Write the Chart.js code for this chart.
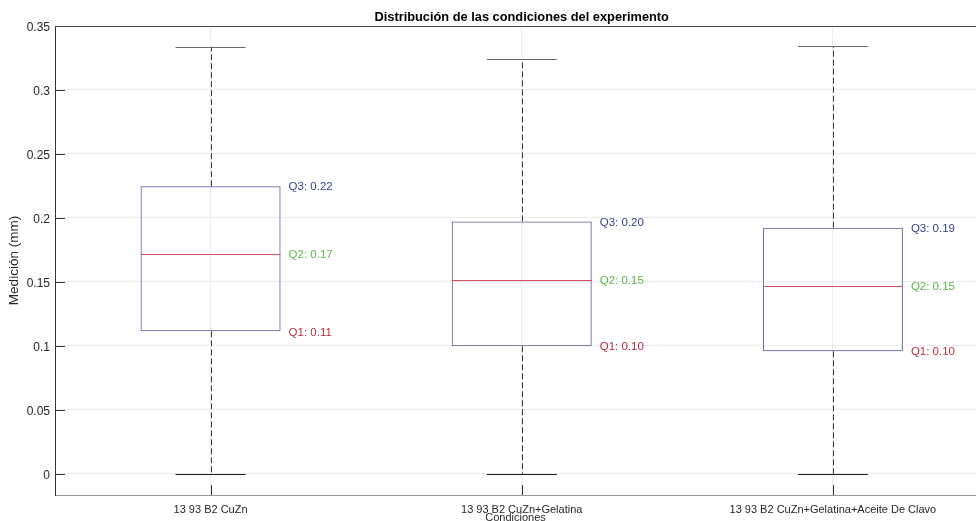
<!DOCTYPE html>
<html>
<head>
<meta charset="utf-8">
<title>Distribución de las condiciones del experimento</title>
<script src="https://cdn.jsdelivr.net/npm/chart.js@4.4.1/dist/chart.umd.min.js"></script>
<style>
  html, body { margin: 0; padding: 0; background: #ffffff; }
  #wrap { width: 976px; height: 521px; }
</style>
</head>
<body>
<div id="wrap"><canvas id="chart" width="976" height="521"></canvas></div>
<script>
// Conditions and their box statistics (mm)
const categories = [
  '13 93 B2 CuZn',
  '13 93 B2 CuZn+Gelatina',
  '13 93 B2 CuZn+Gelatina+Aceite De Clavo'
];
const positions = [1, 2, 3];
const whiskerLow = [0.0000, 0.0000, 0.0000];
const q1 = [0.1114, 0.0997, 0.0958];
const median = [0.1720, 0.1516, 0.1467];
const q3 = [0.2248, 0.1973, 0.1924];
const whiskerHigh = [0.3338, 0.3240, 0.3340];

const yTickValues = [0, 0.05, 0.1, 0.15, 0.2, 0.25, 0.3, 0.35];
const yTickLabels = ['0', '0.05', '0.1', '0.15', '0.2', '0.25', '0.3', '0.35'];
const yMin = -0.0165, yMax = 0.35;
const xMin = 0.5, xMax = 3.46;

const FONT = '"Liberation Sans", Arial, Helvetica, sans-serif';
const COL_Q3 = '#34428a', COL_Q2 = '#5db446', COL_Q1 = '#b5303c';

// Medians, whiskers, caps, quartile labels, inward tick marks and title
const boxDecor = {
  id: 'boxDecor',
  afterDatasetsDraw(chart) {
    const ctx = chart.ctx;
    const xs = chart.scales.x, ys = chart.scales.y;
    const area = chart.chartArea;
    const meta = chart.getDatasetMeta(0);
    ctx.save();
    meta.data.forEach((bar, i) => {
      const cx = xs.getPixelForValue(positions[i]);
      const w = bar.width;
      const left = cx - w / 2, right = cx + w / 2;
      const yQ1 = ys.getPixelForValue(q1[i]);
      const yQ3 = ys.getPixelForValue(q3[i]);
      const yMed = ys.getPixelForValue(median[i]);
      const yLo = ys.getPixelForValue(whiskerLow[i]);
      const yHi = ys.getPixelForValue(whiskerHigh[i]);
      const px = Math.round(cx) + 0.5;

      // whiskers
      ctx.strokeStyle = '#3a3a3a';
      ctx.lineWidth = 1;
      ctx.setLineDash([6, 3]);
      ctx.beginPath();
      ctx.moveTo(px, yQ3);
      ctx.lineTo(px, yHi);
      ctx.moveTo(px, yQ1);
      ctx.lineTo(px, yLo);
      ctx.stroke();
      ctx.setLineDash([]);

      // caps
      const capHalf = w / 4;
      ctx.strokeStyle = '#6a6a6a';
      ctx.beginPath();
      ctx.moveTo(cx - capHalf, Math.round(yHi) + 0.5);
      ctx.lineTo(cx + capHalf, Math.round(yHi) + 0.5);
      ctx.stroke();
      ctx.strokeStyle = '#1a1a1a';
      ctx.beginPath();
      ctx.moveTo(cx - capHalf, Math.round(yLo) + 0.5);
      ctx.lineTo(cx + capHalf, Math.round(yLo) + 0.5);
      ctx.stroke();

      // median
      ctx.strokeStyle = '#d2505e';
      ctx.beginPath();
      ctx.moveTo(left, Math.round(yMed) + 0.5);
      ctx.lineTo(right, Math.round(yMed) + 0.5);
      ctx.stroke();

      // quartile labels
      ctx.font = '11.5px ' + FONT;
      ctx.textAlign = 'left';
      ctx.textBaseline = 'middle';
      const lx = right + 8;
      ctx.fillStyle = COL_Q3;
      ctx.fillText('Q3: ' + q3[i].toFixed(2), lx, yQ3 + 1);
      ctx.fillStyle = COL_Q2;
      ctx.fillText('Q2: ' + median[i].toFixed(2), lx, yMed + 1);
      ctx.fillStyle = COL_Q1;
      ctx.fillText('Q1: ' + q1[i].toFixed(2), lx, yQ1 + 1);
    });

    // inward tick marks
    ctx.strokeStyle = '#333333';
    ctx.lineWidth = 1;
    ctx.beginPath();
    yTickValues.forEach(v => {
      const y = Math.round(ys.getPixelForValue(v)) + 0.5;
      ctx.moveTo(area.left, y);
      ctx.lineTo(area.left + 10, y);
    });
    positions.forEach(p => {
      const x = Math.round(xs.getPixelForValue(p)) + 0.5;
      ctx.moveTo(x, area.bottom);
      ctx.lineTo(x, area.bottom - 10);
    });
    ctx.stroke();

    // top frame line
    ctx.strokeStyle = '#4a4a4a';
    ctx.beginPath();
    ctx.moveTo(area.left, Math.round(area.top) + 0.5);
    ctx.lineTo(area.right, Math.round(area.top) + 0.5);
    ctx.stroke();

    // title centred over the middle condition
    ctx.fillStyle = '#000000';
    ctx.font = 'bold 12.8px ' + FONT;
    ctx.textAlign = 'center';
    ctx.textBaseline = 'middle';
    ctx.fillText('Distribución de las condiciones del experimento',
      xs.getPixelForValue((0.5 + 3.5) / 2), 17);
    ctx.restore();
  }
};

new Chart(document.getElementById('chart'), {
  type: 'bar',
  data: {
    datasets: [{
      data: categories.map((c, i) => ({ x: positions[i], y: [q1[i], q3[i]] })),
      backgroundColor: 'rgba(0,0,0,0)',
      borderColor: '#5c5f9c',
      borderWidth: 1,
      borderSkipped: false,
      categoryPercentage: 1,
      barPercentage: 0.45
    }]
  },
  options: {
    responsive: false,
    animation: false,
    devicePixelRatio: 1,
    layout: { padding: { top: 26, left: 0, right: 0, bottom: 0 } },
    plugins: {
      legend: { display: false },
      tooltip: { enabled: false },
      title: { display: false }
    },
    scales: {
      x: {
        type: 'linear',
        min: xMin,
        max: xMax,
        offset: false,
        afterBuildTicks(scale) { scale.ticks = positions.map(v => ({ value: v })); },
        afterFit(scale) { scale.height = 26; },
        ticks: {
          callback: (v, i) => categories[i],
          maxRotation: 0,
          autoSkip: false,
          padding: 8,
          color: '#262626',
          font: { family: FONT, size: 11 }
        },
        grid: { color: '#ececec', drawTicks: false, offset: false },
        border: { display: true, color: '#999999' },
        title: {
          display: true,
          text: 'Condiciones',
          color: '#262626',
          font: { family: FONT, size: 11, lineHeight: 1 },
          padding: { top: 0, bottom: -2 }
        }
      },
      y: {
        type: 'linear',
        min: yMin,
        max: yMax,
        afterBuildTicks(scale) { scale.ticks = yTickValues.map(v => ({ value: v })); },
        afterFit(scale) { scale.width = 55; },
        ticks: {
          callback: (v, i) => yTickLabels[i],
          padding: 5,
          labelOffset: 1.5,
          color: '#262626',
          font: { family: FONT, size: 12 }
        },
        grid: { color: '#ececec', drawTicks: false },
        border: { display: true, color: '#333333' },
        title: {
          display: true,
          text: 'Medición (mm)',
          color: '#262626',
          font: { family: FONT, size: 13.5 },
          padding: { top: 6, bottom: 0 }
        }
      }
    }
  },
  plugins: [boxDecor]
});
</script>
</body>
</html>
